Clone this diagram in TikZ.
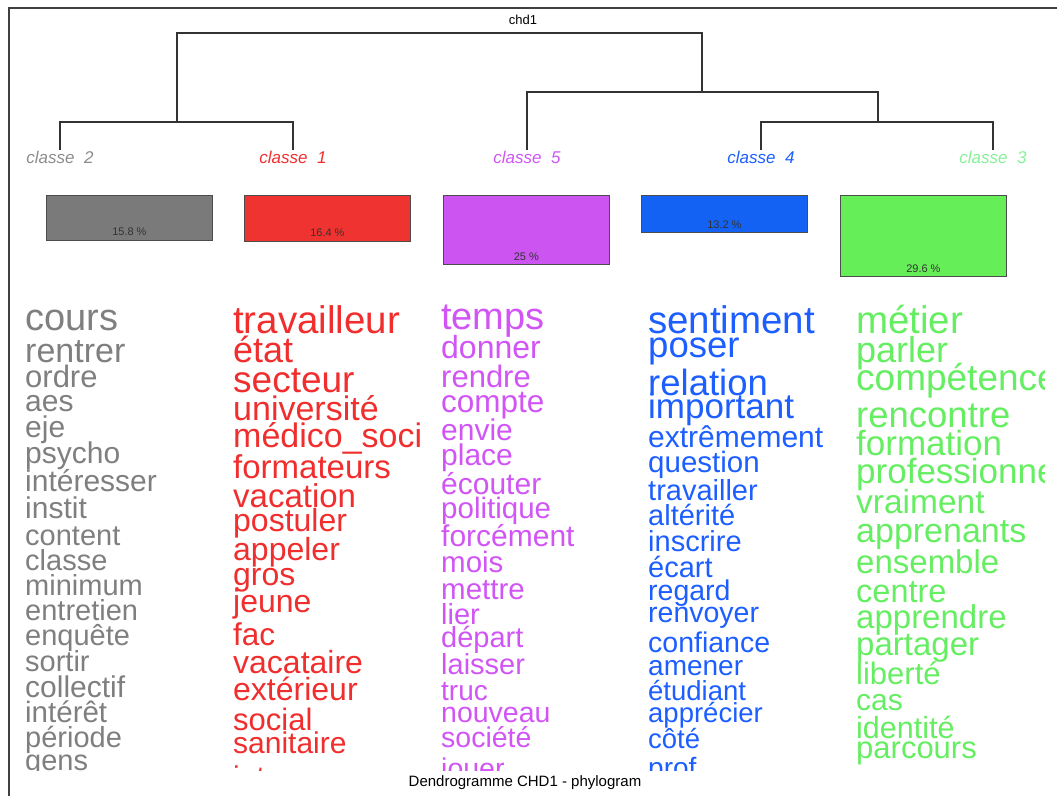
\documentclass[tikz,border=0pt]{standalone}
\usepackage{fontspec}
\setmainfont{Liberation Sans}
\usetikzlibrary{positioning}
\definecolor{cgrey}{HTML}{7F7F7F}
\definecolor{cred}{HTML}{F02E2E}
\definecolor{cviolet}{HTML}{D155F5}
\definecolor{cblue}{HTML}{1C5EFF}
\definecolor{cgreen}{HTML}{66EE62}
\definecolor{bgrey}{HTML}{7A7A7A}
\definecolor{bred}{HTML}{EE3330}
\definecolor{bviolet}{HTML}{CC55F2}
\definecolor{bblue}{HTML}{1462F4}
\definecolor{bgreen}{HTML}{66EE58}
\definecolor{lgreen}{HTML}{88F098}
\tikzset{
  frame/.style ={draw=black!75,line width=1.2pt},
  dendro/.style={draw=black!80,line width=1.4pt},
  leaf/.style  ={anchor=north,inner sep=1pt,font=\fontsize{17}{17}\selectfont\itshape},
  bar/.style   ={anchor=north west,draw=black!70,line width=0.8pt,
                 minimum width=166pt,inner sep=0pt},
  pct/.style   ={font=\fontsize{11}{11}\selectfont,text=black!80,inner sep=0pt},
  word/.style  ={anchor=base west,inner sep=0pt}
}
\begin{document}
\begin{tikzpicture}[x=1pt,y=-1pt]
  \useasboundingbox (0,0) rectangle (1057,796);
  \draw[frame] (9,796) |- (1057,8);

  % dendrogram
  \node[inner sep=0pt,font=\fontsize{13}{13}\selectfont] (title) at (523,20) {chd1};
  \node[leaf,text=cgrey!90] (c2) at (60,150) {classe\ \ 2};
  \node[leaf,text=cred] (c1) at (293,150) {classe\ \ 1};
  \node[leaf,text=cviolet] (c5) at (527,150) {classe\ \ 5};
  \node[leaf,text=cblue] (c4) at (761,150) {classe\ \ 4};
  \node[leaf,text=lgreen] (c3) at (993,150) {classe\ \ 3};
  \coordinate (root) at (523,33);
  \coordinate (m21) at (177,122);
  \coordinate (m543) at (702,92);
  \coordinate (m43) at (878,122);
  \draw[dendro] (c2.north) |- (m21) -| (c1.north);
  \draw[dendro] (c4.north) |- (m43) -| (c3.north);
  \draw[dendro] (c5.north) |- (m543) -| (m43);
  \draw[dendro] (m21) |- (root) -| (m543);

  % class sizes
  \node[bar,fill=bgrey,minimum height=45pt] (b2) at (46,194.5) {};
  \node[bar,fill=bred,minimum height=46pt] (b1) at (244,194.5) {};
  \node[bar,fill=bviolet,minimum height=69.5pt] (b5) at (443,194.5) {};
  \node[bar,fill=bblue,minimum height=37pt] (b4) at (641,194.5) {};
  \node[bar,fill=bgreen,minimum height=81pt] (b3) at (840,194.5) {};
  \node[pct,above=4pt of b2.south] (p2) {15.8 \%};
  \node[pct,above=4pt of b1.south] (p1) {16.4 \%};
  \node[pct,above=4pt of b5.south] (p5) {25 \%};
  \node[pct,above=4pt of b4.south] (p4) {13.2 \%};
  \node[pct,above=4pt of b3.south] (p3) {29.6 \%};

  % words of each class
  \begin{scope}
    \clip (12,285) rectangle (1044,770);
    \foreach \w/\s/\y [count=\i] in {cours/38/330,rentrer/34/362,ordre/31/387,
        aes/30/411,eje/30/437,psycho/30/463,intéresser/30/491,instit/30/518,
        content/29/545,classe/29/570,minimum/29/595,entretien/29/620,
        enquête/29/645,sortir/29/671,collectif/30/697,intérêt/29.5/722,
        période/29/747,gens/29/770}
      \node[word,text=cgrey,font=\fontsize{\s}{\s}\selectfont] (g\i) at (25,\y) {\w};
    \foreach \w/\s/\y [count=\i] in {travailleur/38.5/333,état/36/362,
        secteur/37/392,université/34/420,médico\_soci/34/447,formateurs/33/478,
        vacation/33/507,postuler/32/531,appeler/32/560,gros/32/585,jeune/32/612,
        fac/31.5/645,vacataire/32/673,extérieur/32/700,social/31/730,
        sanitaire/30/753,iut/30/787}
      \node[word,text=cred,font=\fontsize{\s}{\s}\selectfont] (r\i) at (233,\y) {\w};
    \foreach \w/\s/\y [count=\i] in {temps/38/329,donner/32/358,rendre/31/387,
        compte/31.5/412,envie/30/440,place/30/465,écouter/30/494,
        politique/29.5/518,forcément/30/546,mois/29.5/572,mettre/29.5/599,
        lier/29/624,départ/29/647,laisser/29/674,truc/28/700,nouveau/28.5/722,
        société/28.5/747,jouer/28.5/778}
      \node[word,text=cviolet,font=\fontsize{\s}{\s}\selectfont] (v\i) at (441,\y) {\w};
    \foreach \w/\s/\y [count=\i] in {sentiment/38.5/333,poser/36.5/357,
        relation/36.5/395,important/35/418,extrêmement/30/447,question/29.5/472,
        travailler/29/500,altérité/29/525,inscrire/29/551,écart/29/577,
        regard/28.5/600,renvoyer/28.5/622,confiance/28.5/652,amener/28/675,
        étudiant/27.5/700,apprécier/27.5/722,côté/27.5/748,prof/28/777}
      \node[word,text=cblue,font=\fontsize{\s}{\s}\selectfont] (u\i) at (648,\y) {\w};
    \foreach \w/\s/\y [count=\i] in {métier/38.5/333,parler/36/362,
        compétence/37/390,rencontre/36.5/427,formation/35/455,
        professionnelle/35/483,vraiment/33.5/513,apprenants/34/542,
        ensemble/33/573,centre/32.5/602,apprendre/33/628,partager/33/655,
        liberté/31/684,cas/30/710,identité/30.5/738,parcours/31/758}
      \node[word,text=cgreen,font=\fontsize{\s}{\s}\selectfont] (e\i) at (856,\y) {\w};
  \end{scope}

  \node[inner sep=0pt,font=\fontsize{15}{15}\selectfont] (caption) at (525,783)
    {Dendrogramme CHD1 - phylogram};
\end{tikzpicture}
\end{document}
